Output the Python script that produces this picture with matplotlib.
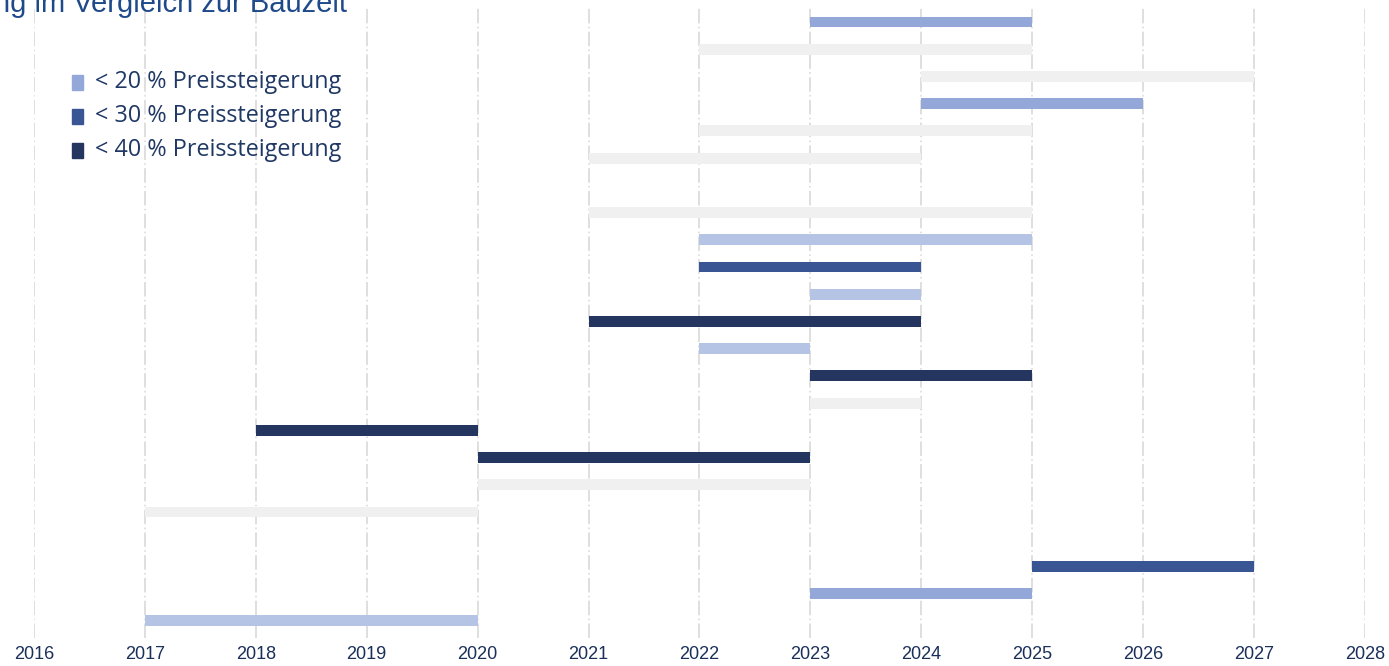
import matplotlib
matplotlib.use("Agg")
import matplotlib.pyplot as plt
from matplotlib.patches import Rectangle

# ---- data (rows listed top to bottom) ----
starts = [2023, 2022, 2024, 2024, 2022, 2021, None, 2021, 2022, 2022, 2023, 2021,
          2022, 2023, 2023, 2018, 2020, 2020, 2017, None, 2025, 2023, 2017]
ends   = [2025, 2025, 2027, 2026, 2025, 2024, None, 2025, 2025, 2024, 2024, 2024,
          2023, 2025, 2024, 2020, 2023, 2023, 2020, None, 2027, 2025, 2020]
categories = ["lightA", "grey", "grey", "lightA", "grey", "grey", None, "grey", "lightB",
              "mid", "lightB", "dark", "lightB", "dark", "grey", "dark", "dark", "grey",
              "grey", None, "mid", "lightA", "lightB"]
year_ticks = list(range(2016, 2029))
legend_labels = ["< 20 % Preissteigerung", "< 30 % Preissteigerung", "< 40 % Preissteigerung"]
title_text = "ng im Vergleich zur Bauzeit"

colors = {"lightA": "#93A8D9", "lightB": "#B5C4E4", "mid": "#3A5594",
          "dark": "#24365F", "grey": "#F0F0F0"}
legend_colors = ["#93A8D9", "#3A5594", "#24365F"]

W, H = 1389, 666
fig = plt.figure(figsize=(W / 100, H / 100), dpi=100)
ax = fig.add_axes([34 / W, 1 - 638 / H, (1365 - 34) / W, 630 / H])

for x in year_ticks:
    ax.axvline(x, color="#D6D6D6", linewidth=1.1,
               linestyle=(0, (9.5, 2.2, 1.0, 2.2)), zorder=0)

for i, (s, e, c) in enumerate(zip(starts, ends, categories)):
    if s is None:
        continue
    ax.barh(i, e - s, left=s, height=0.4, color=colors[c], zorder=2)

ax.set_xlim(2016, 2028)
ax.set_ylim(22.63, -0.515)
ax.set_xticks(year_ticks)
ax.set_xticklabels([str(y) for y in year_ticks], fontsize=13,
                   family="Liberation Sans", color="#1A2F5A")
ax.set_yticks([])
ax.tick_params(axis="x", length=0, pad=6)
for sp in ax.spines.values():
    sp.set_visible(False)

# title fragment (cut off at the top-left like the reference)
fig.text(347 / W, 1 - 12 / H, title_text, ha="right", va="baseline",
         fontsize=21, family="Liberation Sans", color="#1F4A8A")

# legend
ys = [82, 116, 150]
for y, lab, col in zip(ys, legend_labels, legend_colors):
    fig.add_artist(Rectangle((72 / W, 1 - (y + 7.5) / H), 11 / W, 15 / H,
                             transform=fig.transFigure, color=col))
    fig.text(95 / W, 1 - y / H, lab, ha="left", va="center",
             fontsize=16.8, family="Open Sans", color="#1F3864")

fig.savefig("out.png", dpi=100)
